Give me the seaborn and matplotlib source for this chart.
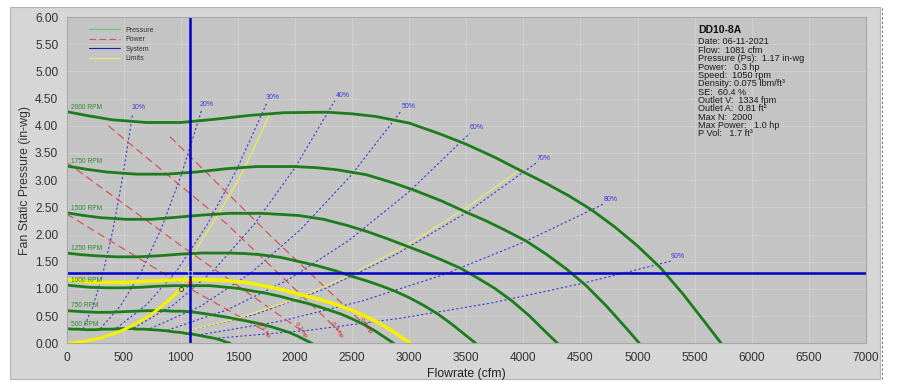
import pandas as pd
import seaborn as sns
import matplotlib.pyplot as plt
from matplotlib.patches import Rectangle
from matplotlib.lines import Line2D

# Fan curves (flow cfm, static pressure in-wg)
rpm_labels = ['2000 RPM', '1750 RPM', '1500 RPM', '1250 RPM', '1000 RPM', '750 RPM', '500 RPM']
rpm_label_y = [4.34, 3.34, 2.48, 1.75, 1.15, 0.69, 0.35]
q_2000 = [0, 200, 400, 700, 1000, 1300, 1600, 1900, 2280, 2500, 2710, 3000, 3270, 3500, 3750,
          4000, 4200, 4400, 4600, 4800, 5000, 5200, 5400, 5600, 5732]
p_2000 = [4.26, 4.18, 4.11, 4.06, 4.06, 4.12, 4.19, 4.24, 4.25, 4.22, 4.17, 4.05, 3.85, 3.66, 3.42,
          3.15, 2.94, 2.71, 2.45, 2.14, 1.79, 1.39, 0.90, 0.36, 0.0]
q_1750 = [0, 175, 350, 613, 875, 1138, 1400, 1663, 1995, 2188, 2371, 2625, 2861, 3063, 3281,
          3500, 3675, 3850, 4025, 4200, 4375, 4550, 4725, 4900, 5016]
p_1750 = [3.26, 3.20, 3.15, 3.11, 3.11, 3.15, 3.21, 3.25, 3.25, 3.23, 3.19, 3.10, 2.95, 2.80, 2.62,
          2.41, 2.25, 2.07, 1.88, 1.64, 1.37, 1.06, 0.69, 0.28, 0.0]
q_1500 = [0, 150, 300, 525, 750, 975, 1200, 1425, 1710, 1875, 2033, 2250, 2453, 2625, 2813,
          3000, 3150, 3300, 3450, 3600, 3750, 3900, 4050, 4200, 4299]
p_1500 = [2.40, 2.35, 2.31, 2.28, 2.28, 2.32, 2.36, 2.39, 2.39, 2.37, 2.35, 2.28, 2.17, 2.06, 1.92,
          1.77, 1.65, 1.52, 1.38, 1.20, 1.01, 0.78, 0.51, 0.20, 0.0]
q_1250 = [0, 125, 250, 438, 625, 813, 1000, 1188, 1425, 1563, 1694, 1875, 2044, 2188, 2344,
          2500, 2625, 2750, 2875, 3000, 3125, 3250, 3375, 3500, 3583]
p_1250 = [1.66, 1.63, 1.61, 1.59, 1.59, 1.61, 1.64, 1.66, 1.66, 1.65, 1.63, 1.58, 1.50, 1.43, 1.34,
          1.23, 1.15, 1.06, 0.96, 0.84, 0.70, 0.54, 0.35, 0.14, 0.0]
q_1000 = [0, 100, 200, 350, 500, 650, 800, 950, 1140, 1250, 1355, 1500, 1635, 1750, 1875,
          2000, 2100, 2200, 2300, 2400, 2500, 2600, 2700, 2800, 2866]
p_1000 = [1.07, 1.05, 1.03, 1.02, 1.02, 1.03, 1.05, 1.06, 1.06, 1.06, 1.04, 1.01, 0.96, 0.92, 0.86,
          0.79, 0.74, 0.68, 0.61, 0.54, 0.45, 0.35, 0.23, 0.09, 0.0]
q_750 = [0, 75, 150, 263, 375, 488, 600, 713, 855, 938, 1016, 1125, 1226, 1313, 1406,
         1500, 1575, 1650, 1725, 1800, 1875, 1950, 2025, 2100, 2150]
p_750 = [0.60, 0.59, 0.58, 0.57, 0.57, 0.58, 0.59, 0.60, 0.60, 0.59, 0.59, 0.57, 0.54, 0.51, 0.48,
         0.44, 0.41, 0.38, 0.34, 0.30, 0.25, 0.20, 0.13, 0.05, 0.0]
q_500 = [0, 50, 100, 175, 250, 325, 400, 475, 570, 625, 678, 750, 818, 875, 938,
         1000, 1050, 1100, 1150, 1200, 1250, 1300, 1350, 1400, 1433]
p_500 = [0.27, 0.26, 0.26, 0.25, 0.25, 0.26, 0.26, 0.27, 0.27, 0.26, 0.26, 0.25, 0.24, 0.23, 0.21,
         0.20, 0.18, 0.17, 0.15, 0.13, 0.11, 0.09, 0.06, 0.02, 0.0]

# operating speed curve (1050 rpm), drawn thick yellow
q_oper = [0, 105, 210, 368, 525, 683, 840, 998, 1197, 1313, 1423, 1575, 1717, 1838, 1969,
          2100, 2205, 2310, 2415, 2520, 2625, 2730, 2835, 2940, 3009]
p_oper = [1.17, 1.15, 1.13, 1.12, 1.12, 1.14, 1.15, 1.17, 1.17, 1.16, 1.15, 1.12, 1.06, 1.01, 0.94,
          0.87, 0.81, 0.75, 0.67, 0.59, 0.49, 0.38, 0.25, 0.10, 0.0]

# system curve up to the operating point
q_sys = [0, 150, 300, 450, 600, 750, 900, 1000]
p_sys = [0.0, 0.03, 0.10, 0.20, 0.35, 0.54, 0.80, 1.0]

# limit lines
q_lim_left = [1000, 1110, 1200, 1285, 1360, 1431, 1500, 1577, 1680, 1781]
p_lim_left = [1.0, 1.62, 1.95, 2.22, 2.48, 2.74, 2.99, 3.30, 3.76, 4.23]
q_lim_right = [1000, 1500, 2000, 2500, 3000, 3500, 3968]
p_lim_right = [0.20, 0.46, 0.81, 1.27, 1.83, 2.49, 3.19]

# static efficiency lines
eff_labels = ['10%', '20%', '30%', '40%', '50%', '60%', '70%', '80%', '90%']
eff_q = [[145, 232, 318, 405, 492, 579],
         [296, 473, 651, 828, 1006, 1183],
         [438, 701, 964, 1226, 1489, 1752],
         [587, 940, 1292, 1644, 1997, 2349],
         [733, 1173, 1613, 2053, 2493, 2933],
         [883, 1412, 1942, 2471, 3001, 3530],
         [1032, 1651, 2270, 2890, 3509, 4128],
         [1178, 1884, 2591, 3298, 4004, 4711],
         [1327, 2124, 2920, 3716, 4513, 5309]]
eff_p = [[0.26, 0.68, 1.28, 2.07, 3.06, 4.23],
         [0.27, 0.69, 1.30, 2.10, 3.10, 4.29],
         [0.28, 0.71, 1.33, 2.16, 3.19, 4.41],
         [0.28, 0.71, 1.35, 2.19, 3.22, 4.46],
         [0.27, 0.68, 1.29, 2.10, 3.09, 4.28],
         [0.24, 0.62, 1.17, 1.89, 2.79, 3.86],
         [0.21, 0.53, 1.01, 1.64, 2.41, 3.34],
         [0.16, 0.41, 0.78, 1.26, 1.86, 2.57],
         [0.095, 0.24, 0.46, 0.74, 1.10, 1.52]]
eff_label_q = [630, 1230, 1810, 2416, 2999, 3588, 4178, 4764, 5352]
eff_label_p = [4.34, 4.39, 4.52, 4.55, 4.35, 3.96, 3.40, 2.65, 1.59]

# power lines
pow_labels = ['0.1 hp', '0.2 hp', '0.4 hp', '0.5 hp']
pow_q = [[0, 900, 1752], [0, 1000, 2072], [366, 1400, 2393], [906, 1800, 2641]]
pow_p = [[2.38, 1.22, 0.21], [3.33, 1.80, 0.21], [4.00, 2.20, 0.21], [3.80, 1.95, 0.28]]

# operating point / crosshair
op_flow = 1081
op_line_p = 1.29

info_title = 'DD10-8A'
info_lines = ['Date: 06-11-2021', 'Flow:  1081 cfm', 'Pressure (Ps):  1.17 in-wg', 'Power:   0.3 hp',
              'Speed:  1050 rpm', 'Density: 0.075 lbm/ft\u00b3', 'SE:  60.4 %', 'Outlet V:  1334 fpm',
              'Outlet A:  0.81 ft\u00b2', 'Max N:  2000', 'Max Power:   1.0 hp', 'P Vol:   1.7 ft\u00b3']

sns.set_style('white')
plt.rcParams['font.family'] = ['Liberation Sans', 'DejaVu Sans']

W, H = 901, 385
fig = plt.figure(figsize=(W / 100, H / 100), dpi=100)
fig.patch.set_facecolor('white')
fig.add_artist(Rectangle((10 / W, 6 / H), 870 / W, 372 / H, transform=fig.transFigure,
                         facecolor='#d6d6d6', edgecolor='#b4b4b4', lw=0.8, zorder=-10))
fig.add_artist(Line2D([882 / W, 882 / W], [6 / H, 1 - 6 / H], transform=fig.transFigure,
                      color='#777777', lw=0.8, ls=(0, (2, 2)), zorder=-5))
ax = fig.add_axes([66.5 / W, (H - 343.3) / H, (866 - 66.5) / W, (343.3 - 17) / H])
ax.set_zorder(1)
ax.set_facecolor('#c4c4c4')

green = '#1c7c1c'
curves = [(q_2000, p_2000), (q_1750, p_1750), (q_1500, p_1500), (q_1250, p_1250),
          (q_1000, p_1000), (q_750, p_750), (q_500, p_500)]

# efficiency lines
for q, p, lab, lq, lp in zip(eff_q, eff_p, eff_labels, eff_label_q, eff_label_p):
    sns.lineplot(x=q, y=p, ax=ax, color='#3a3ad6', lw=0.8, ls=(0, (2, 2)), sort=False, estimator=None)
    ax.text(lq, lp, lab, color='#3a3ad6', fontsize=5, ha='center', va='center')

# power lines
for q, p, lab in zip(pow_q, pow_p, pow_labels):
    sns.lineplot(x=q, y=p, ax=ax, color='#d84848', lw=0.8, ls=(0, (7, 4)), sort=False, estimator=None)
    ax.text(q[-1] - 20, p[-1] + 0.04, lab, color='#d02020', fontsize=4.5, rotation=-55,
            ha='center', va='center')

# limits
sns.lineplot(x=q_lim_left, y=p_lim_left, ax=ax, color='#e8e860', lw=1.0, sort=False, estimator=None)
sns.lineplot(x=q_lim_right, y=p_lim_right, ax=ax, color='#e8e870', lw=0.9, sort=False, estimator=None)

# fan curves
for (q, p), lab, ly in zip(curves, rpm_labels, rpm_label_y):
    sns.lineplot(x=q, y=p, ax=ax, color=green, lw=2.0, sort=False, estimator=None)
    ax.text(40, ly, lab, color='#2e8a2e', fontsize=4.8, ha='left', va='center')

sns.lineplot(x=q_oper, y=p_oper, ax=ax, color='#f2f200', lw=2.6, sort=False, estimator=None)
sns.lineplot(x=q_sys, y=p_sys, ax=ax, color='#f2f200', lw=2.2, sort=False, estimator=None)

# crosshair
ax.axvline(op_flow, color='#0000c8', lw=1.8)
ax.axhline(op_line_p, color='#0000c8', lw=1.8)
ax.plot([op_flow], [op_line_p], 'o', ms=3, mfc='none', mec='#a0a0ff', mew=0.8)
ax.plot([q_sys[-1]], [p_sys[-1]], 'o', ms=3, mfc='none', mec='#333333', mew=0.6)
ax.plot([op_flow], [1.12], 's', ms=2, color='#b00000')

ax.set_xlim(0, 7000)
ax.set_ylim(0, 6)
ax.set_xticks(range(0, 7001, 500))
ax.set_yticks([i * 0.5 for i in range(13)])
ax.set_yticklabels([f'{i * 0.5:.2f}' for i in range(13)])
ax.grid(True, color='#d2d2d2', lw=0.6)
ax.set_axisbelow(True)
ax.tick_params(direction='out', length=4, width=0.6, colors='#333333', labelsize=8.6, pad=2)
for s in ax.spines.values():
    s.set_color('#a8a8a8')
    s.set_linewidth(0.8)
ax.set_xlabel('Flowrate (cfm)', fontsize=8.8, color='#222222', labelpad=3)
ax.set_ylabel('Fan Static Pressure (in-wg)', fontsize=8.8, color='#333333', labelpad=3)

handles = [Line2D([], [], color='#7cc47c', lw=1),
           Line2D([], [], color='#e05050', lw=0.8, ls=(0, (6, 3))),
           Line2D([], [], color='#2020a0', lw=0.8),
           Line2D([], [], color='#e6e680', lw=1)]
ax.legend(handles, ['Pressure', 'Power', 'System', 'Limits'], loc='upper left',
          bbox_to_anchor=(0.022, 0.985), fontsize=5, frameon=False, handlelength=4.5,
          labelspacing=0.35, handletextpad=0.8, borderpad=0.2, labelcolor='#333333')

# info block
fig.text(698 / W, 1 - 30 / H, info_title, fontsize=7.5, fontweight='bold', color='#111111',
         ha='left', va='center')
for i, line in enumerate(info_lines):
    fig.text(698 / W, 1 - (42 + i * 8.35) / H, line, fontsize=6.6, color='#1a1a1a',
             ha='left', va='center')

fig.savefig('out.png', dpi=100)
